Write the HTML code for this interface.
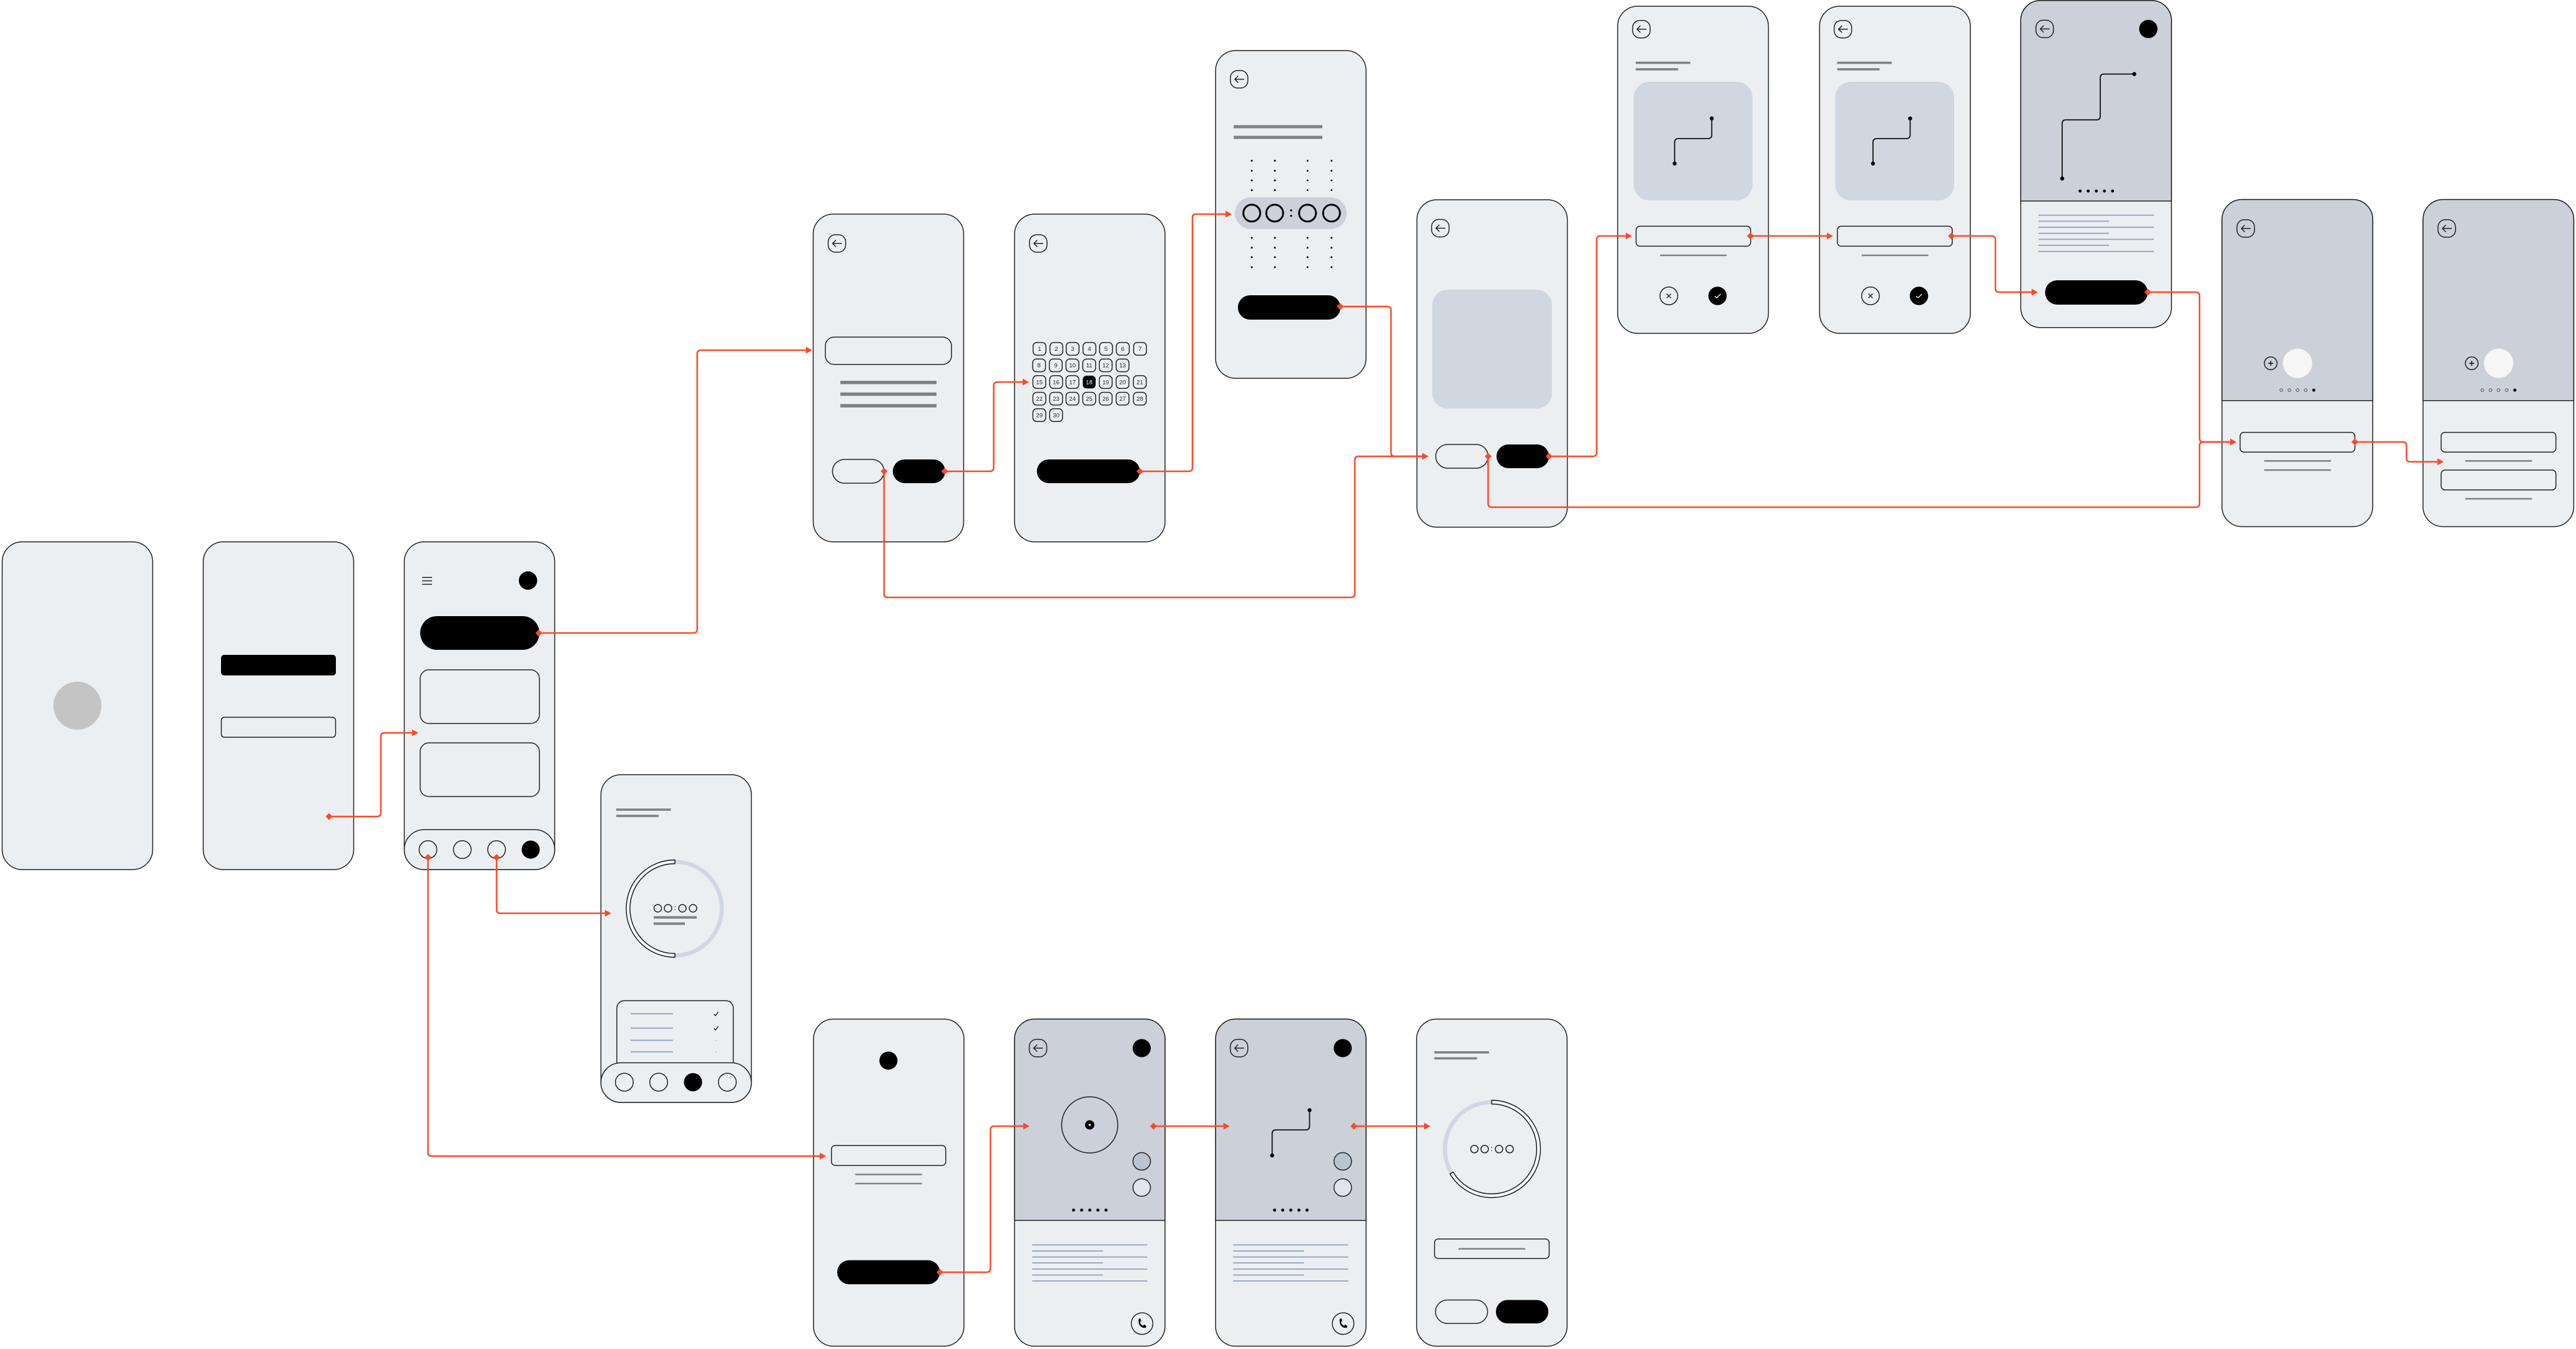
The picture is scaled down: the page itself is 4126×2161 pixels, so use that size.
<!DOCTYPE html>
<html lang="en">
<head>
<meta charset="utf-8">
<title>Wireframe flow</title>
<style>
html,body{margin:0;padding:0;background:#fff}
svg{display:block}
.ph{fill:#eceff2;stroke:#222;stroke-width:1.5}
.top{fill:#cbd0d9}
.o{fill:#eceff2;stroke:#222;stroke-width:1.5}
.n{fill:none;stroke:#222;stroke-width:1.5}
.g{fill:#808080}
.b{stroke:#9aa8c2;stroke-width:2;fill:none}
.gl{stroke:#808080;stroke-width:2.5;fill:none}
.c{fill:none;stroke:#fb4a26;stroke-width:2.5;marker-start:url(#dia);marker-end:url(#arr)}
.t{font:9.5px "Liberation Sans",sans-serif;text-anchor:middle;fill:#222}
.route{fill:none;stroke:#111;stroke-width:1.8}
</style>
</head>
<body>
<svg width="4126" height="2161" viewBox="0 0 4126 2161" xmlns="http://www.w3.org/2000/svg">
<defs>
<marker id="arr" markerUnits="userSpaceOnUse" markerWidth="11" markerHeight="13" refX="0" refY="6" orient="auto"><polygon points="0,0.5 10,6 0,11.5" fill="#fb4a26"/></marker>
<marker id="dia" markerUnits="userSpaceOnUse" markerWidth="13" markerHeight="13" refX="6.5" refY="6.5" orient="auto"><polygon points="6.5,1 12,6.5 6.5,12 1,6.5" fill="#fb4a26"/></marker>
<g id="back"><rect x="-14" y="-14" width="28" height="28" rx="11.5" fill="none" stroke="#222" stroke-width="1.5"/><path d="M8 0H-7M-1.5-5.5L-7 0-1.5 5.5" fill="none" stroke="#222" stroke-width="1.5"/></g>
<g id="cal"><rect x="-10.3" y="-10.2" width="20.6" height="20.4" rx="6" fill="none" stroke="#222" stroke-width="1.5"/></g>
<g id="dots5"><circle cx="-26" r="2.4"/><circle cx="-13" r="2.4"/><circle r="2.4"/><circle cx="13" r="2.4"/><circle cx="26" r="2.4"/></g>
<g id="pager"><circle cx="-26" r="2.3" fill="none" stroke="#333" stroke-width=".8"/><circle cx="-13" r="2.3" fill="none" stroke="#333" stroke-width=".8"/><circle r="2.3" fill="none" stroke="#333" stroke-width=".8"/><circle cx="13" r="2.3" fill="none" stroke="#333" stroke-width=".8"/><circle cx="26" r="2.5" fill="#000"/></g>
<g id="call"><circle r="17.3" fill="none" stroke="#222" stroke-width="1.5"/><path d="M-5.5-7.5L-2.5-8-1.5-4-3.5-2.8Q-2.5 1.5 1.5 3.5L3.5 1.5 7 4.5 5.5 7Q-7 7-5.5-7.5Z" fill="#000"/></g>
<g id="plus"><circle r="10.2" fill="none" stroke="#222" stroke-width="1.5"/><path d="M-4 0H4M0-4V4" stroke="#111" stroke-width="1.5"/></g>
<g id="time"><circle cx="-27.7" r="6" class="n"/><circle cx="-11.3" r="6" class="n"/><circle cx="11.7" r="6" class="n"/><circle cx="28.7" r="6" class="n"/><circle cy="-2.5" r=".8" fill="#333"/><circle cy="2.5" r=".8" fill="#333"/></g>
</defs>
<rect width="4126" height="2161" fill="#fff"/>

<!-- P1 -->
<rect class="ph" x="3.5" y="868" width="241" height="525" rx="32"/>
<circle cx="124" cy="1130.5" r="38.5" fill="#c4c4c4"/>

<!-- P2 -->
<rect class="ph" x="325.5" y="868" width="241" height="525" rx="32"/>
<rect x="354" y="1049" width="184" height="33" rx="5" fill="#000"/>
<rect class="o" x="354.5" y="1149" width="183" height="32" rx="5"/>

<!-- P3 -->
<rect class="ph" x="647.5" y="868" width="241" height="525" rx="32"/>
<path d="M676 925H692M676 930.5H692M676 936H692" stroke="#222" stroke-width="1.5"/>
<circle cx="845.7" cy="930" r="14.7" fill="#000"/>
<rect x="673" y="987" width="191" height="54" rx="27" fill="#000"/>
<rect class="o" x="673" y="1073" width="191" height="86" rx="14"/>
<rect class="o" x="673" y="1190" width="191" height="86" rx="14"/>
<rect class="o" x="647.5" y="1329" width="241" height="64" rx="32"/>
<circle class="n" cx="685.5" cy="1361" r="14.2"/>
<circle class="n" cx="740.5" cy="1361" r="14.2"/>
<circle class="n" cx="795.4" cy="1361" r="14.2"/>
<circle cx="850" cy="1361" r="14.5" fill="#000"/>

<!-- P4 -->
<rect class="ph" x="962.5" y="1241" width="241" height="525" rx="32"/>
<rect class="g" x="987" y="1295.2" width="87.5" height="3.6"/>
<rect class="g" x="987" y="1305.2" width="68" height="3.6"/>
<circle cx="1081" cy="1455.5" r="75" fill="none" stroke="#d0d7e2" stroke-width="6.5"/>
<path d="M1081 1377.5A78 78 0 0 0 1081 1533.5V1527.5A72 72 0 0 1 1081 1383.5Z" fill="#f4f6f8" stroke="#111" stroke-width="1.4" stroke-linejoin="round"/>
<use href="#time" x="1081.3" y="1455"/>
<rect class="g" x="1047" y="1467.6" width="69" height="4"/>
<rect class="g" x="1047" y="1477.6" width="50" height="4"/>
<path class="o" d="M988 1703V1615A12 12 0 0 1 1000 1603H1162.5A12 12 0 0 1 1174.5 1615V1703"/>
<path class="b" d="M1010 1624H1078M1010 1647H1078M1010 1666.5H1078M1010 1685H1078"/>
<path d="M1143.5 1624.5L1146 1627 1150.5 1621M1143.5 1647.5L1146 1650 1150.5 1644" fill="none" stroke="#111" stroke-width="1.3"/>
<circle cx="1147" cy="1666.5" r="1.1" fill="#c5c9d2"/><circle cx="1147" cy="1685" r="1.1" fill="#c5c9d2"/>
<rect class="o" x="962.5" y="1702.5" width="241" height="63.5" rx="32"/>
<circle class="n" cx="1000" cy="1733.6" r="14.3"/>
<circle class="n" cx="1055" cy="1733.6" r="14.3"/>
<circle cx="1110" cy="1733.6" r="14.6" fill="#000"/>
<circle class="n" cx="1165" cy="1733.6" r="14.3"/>

<!-- P5 -->
<rect class="ph" x="1302.5" y="343" width="241" height="525" rx="32"/>
<use href="#back" x="1340.5" y="390"/>
<rect class="o" x="1322" y="540" width="202" height="43.7" rx="14"/>
<rect class="g" x="1346" y="610" width="154" height="5.4"/>
<rect class="g" x="1346" y="628.7" width="154" height="5.4"/>
<rect class="g" x="1346" y="647.3" width="154" height="5.4"/>
<rect class="o" x="1333.4" y="736" width="82.6" height="38" rx="19"/>
<rect x="1430" y="736" width="84" height="38" rx="19" fill="#000"/>

<!-- P6 -->
<rect class="ph" x="1625" y="343" width="241" height="525" rx="32"/>
<use href="#back" x="1663" y="390"/>
<use href="#cal" x="1665" y="558.8"/><text class="t" x="1665" y="562.2">1</text>
<use href="#cal" x="1692" y="558.8"/><text class="t" x="1692" y="562.2">2</text>
<use href="#cal" x="1718" y="558.8"/><text class="t" x="1718" y="562.2">3</text>
<use href="#cal" x="1745" y="558.8"/><text class="t" x="1745" y="562.2">4</text>
<use href="#cal" x="1771.5" y="558.8"/><text class="t" x="1771.5" y="562.2">5</text>
<use href="#cal" x="1798.4" y="558.8"/><text class="t" x="1798.4" y="562.2">6</text>
<use href="#cal" x="1826" y="558.8"/><text class="t" x="1826" y="562.2">7</text>
<use href="#cal" x="1664.3" y="585.3"/><text class="t" x="1664.3" y="588.7">8</text>
<use href="#cal" x="1691" y="585.3"/><text class="t" x="1691" y="588.7">9</text>
<use href="#cal" x="1717.7" y="585.3"/><text class="t" x="1717.7" y="588.7">10</text>
<use href="#cal" x="1744.6" y="585.3"/><text class="t" x="1744.6" y="588.7">11</text>
<use href="#cal" x="1771" y="585.3"/><text class="t" x="1771" y="588.7">12</text>
<use href="#cal" x="1798" y="585.3"/><text class="t" x="1798" y="588.7">13</text>
<use href="#cal" x="1664.7" y="612"/><text class="t" x="1664.7" y="615.4">15</text>
<use href="#cal" x="1691.6" y="612"/><text class="t" x="1691.6" y="615.4">16</text>
<use href="#cal" x="1717.7" y="612"/><text class="t" x="1717.7" y="615.4">17</text>
<rect x="1734.3" y="601.8" width="20.6" height="20.4" rx="6" fill="#000"/><text class="t" x="1744.6" y="615.4" style="fill:#fff">18</text>
<use href="#cal" x="1771" y="612"/><text class="t" x="1771" y="615.4">19</text>
<use href="#cal" x="1798" y="612"/><text class="t" x="1798" y="615.4">20</text>
<use href="#cal" x="1825.7" y="612"/><text class="t" x="1825.7" y="615.4">21</text>
<use href="#cal" x="1664.7" y="638.7"/><text class="t" x="1664.7" y="642.1">22</text>
<use href="#cal" x="1691.6" y="638.7"/><text class="t" x="1691.6" y="642.1">23</text>
<use href="#cal" x="1717.7" y="638.7"/><text class="t" x="1717.7" y="642.1">24</text>
<use href="#cal" x="1744.6" y="638.7"/><text class="t" x="1744.6" y="642.1">25</text>
<use href="#cal" x="1771" y="638.7"/><text class="t" x="1771" y="642.1">26</text>
<use href="#cal" x="1798" y="638.7"/><text class="t" x="1798" y="642.1">27</text>
<use href="#cal" x="1825.7" y="638.7"/><text class="t" x="1825.7" y="642.1">28</text>
<use href="#cal" x="1664.7" y="665"/><text class="t" x="1664.7" y="668.4">29</text>
<use href="#cal" x="1691.6" y="665"/><text class="t" x="1691.6" y="668.4">30</text>
<rect x="1660.8" y="736" width="165" height="38" rx="19" fill="#000"/>

<!-- P7 -->
<rect class="ph" x="1947" y="81" width="241" height="525" rx="32"/>
<use href="#back" x="1984.7" y="127"/>
<rect class="g" x="1976" y="200.5" width="142" height="5"/>
<rect class="g" x="1976" y="217.5" width="142" height="5"/>
<g fill="#000">
<circle cx="2005" cy="257.5" r="1.5"/><circle cx="2005" cy="273.5" r="1.5"/><circle cx="2005" cy="289" r="1.5"/><circle cx="2005" cy="304.6" r="1.5"/>
<circle cx="2042" cy="257.5" r="1.5"/><circle cx="2042" cy="273.5" r="1.5"/><circle cx="2042" cy="289" r="1.5"/><circle cx="2042" cy="304.6" r="1.5"/>
<circle cx="2094.3" cy="257.5" r="1.5"/><circle cx="2094.3" cy="273.5" r="1.5"/><circle cx="2094.3" cy="289" r="1.5"/><circle cx="2094.3" cy="304.6" r="1.5"/>
<circle cx="2132.7" cy="257.5" r="1.5"/><circle cx="2132.7" cy="273.5" r="1.5"/><circle cx="2132.7" cy="289" r="1.5"/><circle cx="2132.7" cy="304.6" r="1.5"/>
<circle cx="2005" cy="381" r="1.5"/><circle cx="2005" cy="396.8" r="1.5"/><circle cx="2005" cy="412" r="1.5"/><circle cx="2005" cy="428" r="1.5"/>
<circle cx="2042" cy="381" r="1.5"/><circle cx="2042" cy="396.8" r="1.5"/><circle cx="2042" cy="412" r="1.5"/><circle cx="2042" cy="428" r="1.5"/>
<circle cx="2094.3" cy="381" r="1.5"/><circle cx="2094.3" cy="396.8" r="1.5"/><circle cx="2094.3" cy="412" r="1.5"/><circle cx="2094.3" cy="428" r="1.5"/>
<circle cx="2132.7" cy="381" r="1.5"/><circle cx="2132.7" cy="396.8" r="1.5"/><circle cx="2132.7" cy="412" r="1.5"/><circle cx="2132.7" cy="428" r="1.5"/>
</g>
<rect x="1978" y="316" width="179" height="51" rx="25.5" fill="#cbd0d9"/>
<g fill="none" stroke="#000" stroke-width="3"><circle cx="2005" cy="341.4" r="13.5"/><circle cx="2041.7" cy="341.4" r="13.5"/><circle cx="2094.3" cy="341.4" r="13.5"/><circle cx="2132.7" cy="341.4" r="13.5"/></g>
<circle cx="2068" cy="337" r="1.6" fill="#000"/><circle cx="2068" cy="345.7" r="1.6" fill="#000"/>
<rect x="1982.7" y="473" width="164.3" height="39" rx="19.5" fill="#000"/>

<!-- P8 -->
<rect class="ph" x="2269.5" y="320" width="241" height="524.5" rx="32"/>
<use href="#back" x="2307" y="365.5"/>
<rect x="2294" y="464" width="191.8" height="190.5" rx="25" fill="#d1d7e0"/>
<rect class="o" x="2299.6" y="712" width="83.9" height="38" rx="19"/>
<rect x="2397" y="712" width="84" height="38" rx="19" fill="#000"/>

<!-- P9 -->
<rect class="ph" x="2591" y="10" width="241.5" height="524" rx="32"/>
<use href="#back" x="2629" y="46.7"/>
<rect class="g" x="2620" y="98.8" width="87.4" height="3.6"/>
<rect class="g" x="2620" y="109.2" width="68" height="3.6"/>
<rect x="2616.8" y="131" width="190.2" height="190" rx="25" fill="#d1d7e0"/>
<path class="route" d="M2682.3 262V228Q2682.3 222 2688.3 222H2735.7Q2741.7 222 2741.7 216V189.7"/>
<circle cx="2682.3" cy="262" r="3.2" fill="#000"/><circle cx="2741.7" cy="189.7" r="3.2" fill="#000"/>
<rect class="o" x="2620.5" y="362.4" width="183.5" height="32" rx="6"/>
<path class="gl" d="M2659 409H2765.6"/>
<circle class="n" cx="2673" cy="474" r="14.2"/>
<path d="M2669.5 470.5L2676.5 477.5M2676.5 470.5L2669.5 477.5" stroke="#222" stroke-width="1.4"/>
<circle cx="2751" cy="474" r="14.7" fill="#000"/>
<path d="M2746.5 474.5L2749.7 477 2756 471" fill="none" stroke="#fff" stroke-width="1.3"/>

<!-- P10 -->
<rect class="ph" x="2914.4" y="10" width="241.5" height="524" rx="32"/>
<use href="#back" x="2951.8" y="46.7"/>
<rect class="g" x="2942.6" y="98.8" width="87.4" height="3.6"/>
<rect class="g" x="2942.6" y="109.2" width="68" height="3.6"/>
<rect x="2939.5" y="131" width="190.5" height="190" rx="25" fill="#d1d7e0"/>
<path class="route" d="M3000 262V228Q3000 222 3006 222H3053.5Q3059.5 222 3059.5 216V189.7"/>
<circle cx="3000" cy="262" r="3.2" fill="#000"/><circle cx="3059.5" cy="189.7" r="3.2" fill="#000"/>
<rect class="o" x="2943" y="362.4" width="184" height="32" rx="6"/>
<path class="gl" d="M2981.8 409H3088.6"/>
<circle class="n" cx="2996" cy="474" r="14.2"/>
<path d="M2992.5 470.5L2999.5 477.5M2999.5 470.5L2992.5 477.5" stroke="#222" stroke-width="1.4"/>
<circle cx="3073.6" cy="474" r="14.7" fill="#000"/>
<path d="M3069 474.5L3072.2 477 3078.5 471" fill="none" stroke="#fff" stroke-width="1.3"/>

<!-- P11 -->
<rect class="ph" x="3236.6" y="0.8" width="241.4" height="524" rx="32"/>
<path class="top" d="M3236.6 322V32.8A32 32 0 0 1 3268.6 0.8H3446A32 32 0 0 1 3478 32.8V322Z"/>
<path d="M3236.6 322V32.8A32 32 0 0 1 3268.6 0.8H3446A32 32 0 0 1 3478 32.8V322M3236.6 322H3478" class="n"/>
<use href="#back" x="3275" y="46.4"/>
<circle cx="3441" cy="46.4" r="14.7" fill="#000"/>
<path class="route" d="M3303 286V198Q3303 192 3309 192H3358Q3364 192 3364 186V124.6Q3364 118.6 3370 118.6H3418.5"/>
<circle cx="3303" cy="286" r="3.2" fill="#000"/><circle cx="3418.5" cy="118.6" r="3.2" fill="#000"/>
<use href="#dots5" x="3357.7" y="306"/>
<path class="b" d="M3265 344.7H3450M3265 354.4H3378M3265 364H3450M3265 373.7H3378M3265 383.4H3450M3265 393H3378M3265 402.7H3450"/>
<rect x="3275.6" y="449" width="164.4" height="39" rx="19.5" fill="#000"/>

<!-- P12 -->
<rect class="ph" x="3559" y="319.6" width="241.4" height="524" rx="32"/>
<path class="top" d="M3559 641.7V351.6A32 32 0 0 1 3591 319.6H3768.4A32 32 0 0 1 3800.4 351.6V641.7Z"/>
<path class="n" d="M3559 641.7V351.6A32 32 0 0 1 3591 319.6H3768.4A32 32 0 0 1 3800.4 351.6V641.7M3559 641.7H3800.4"/>
<use href="#back" x="3597" y="366"/>
<use href="#plus" x="3637" y="582"/>
<circle cx="3680" cy="582" r="23.5" fill="#f6f6f6"/>
<use href="#pager" x="3680" y="625"/>
<rect class="o" x="3588" y="692.6" width="183.8" height="31.6" rx="6"/>
<path class="gl" d="M3626.5 738.4H3733.4M3626.5 753H3733.4"/>

<!-- P13 -->
<rect class="ph" x="3881" y="319.6" width="241.4" height="524" rx="32"/>
<path class="top" d="M3881 641.7V351.6A32 32 0 0 1 3913 319.6H4090.4A32 32 0 0 1 4122.4 351.6V641.7Z"/>
<path class="n" d="M3881 641.7V351.6A32 32 0 0 1 3913 319.6H4090.4A32 32 0 0 1 4122.4 351.6V641.7M3881 641.7H4122.4"/>
<use href="#back" x="3919" y="366"/>
<use href="#plus" x="3959" y="582"/>
<circle cx="4002" cy="582" r="23.5" fill="#f6f6f6"/>
<use href="#pager" x="4002" y="625"/>
<rect class="o" x="3910" y="692.6" width="183.8" height="31.6" rx="6"/>
<path class="gl" d="M3948.5 738.4H4055.4"/>
<rect class="o" x="3910" y="753" width="183.8" height="31.8" rx="6"/>
<path class="gl" d="M3948.5 799H4055.4"/>

<!-- P14 -->
<rect class="ph" x="1303" y="1632.5" width="241" height="524" rx="32"/>
<circle cx="1423" cy="1699" r="14.5" fill="#000"/>
<rect class="o" x="1331.7" y="1835" width="183.1" height="32" rx="6"/>
<path class="gl" d="M1369.8 1881.4H1476.6M1369.8 1896H1476.6"/>
<rect x="1341" y="2018.8" width="164.4" height="38.5" rx="19.2" fill="#000"/>

<!-- P15 -->
<rect class="ph" x="1625" y="1632.5" width="241" height="524" rx="32"/>
<path class="top" d="M1625 1955V1664.5A32 32 0 0 1 1657 1632.5H1834A32 32 0 0 1 1866 1664.5V1955Z"/>
<path class="n" d="M1625 1955V1664.5A32 32 0 0 1 1657 1632.5H1834A32 32 0 0 1 1866 1664.5V1955M1625 1955H1866"/>
<use href="#back" x="1662.6" y="1679"/>
<circle cx="1828.7" cy="1679" r="14.5" fill="#000"/>
<circle class="n" cx="1745.4" cy="1802" r="45"/>
<circle cx="1745.4" cy="1802" r="7.5" fill="#000"/><circle cx="1745.4" cy="1802" r="1.7" fill="#fff"/>
<circle cx="1828.7" cy="1860.4" r="14" fill="#b9c4d0" stroke="#222" stroke-width="1.5"/>
<circle cx="1828.7" cy="1902.4" r="14" fill="#e0e4ec" stroke="#222" stroke-width="1.5"/>
<use href="#dots5" x="1745.5" y="1938.5"/>
<path class="b" d="M1653.3 1994.3H1837.5M1653.3 2004H1766.5M1653.3 2013.6H1837.5M1653.3 2023H1766.5M1653.3 2033H1837.5M1653.3 2042.5H1766.5M1653.3 2052H1837.5"/>
<use href="#call" x="1829.3" y="2120.3"/>

<!-- P16 -->
<rect class="ph" x="1947" y="1632.5" width="241" height="524" rx="32"/>
<path class="top" d="M1947 1955V1664.5A32 32 0 0 1 1979 1632.5H2156A32 32 0 0 1 2188 1664.5V1955Z"/>
<path class="n" d="M1947 1955V1664.5A32 32 0 0 1 1979 1632.5H2156A32 32 0 0 1 2188 1664.5V1955M1947 1955H2188"/>
<use href="#back" x="1984.6" y="1679"/>
<circle cx="2150.7" cy="1679" r="14.5" fill="#000"/>
<path class="route" d="M2037.6 1851V1816Q2037.6 1810 2043.6 1810H2091.5Q2097.5 1810 2097.5 1804V1778.4"/>
<circle cx="2037.6" cy="1851" r="3.2" fill="#000"/><circle cx="2097.5" cy="1778.4" r="3.2" fill="#000"/>
<circle cx="2150.7" cy="1860.4" r="14" fill="#b9c4d0" stroke="#222" stroke-width="1.5"/>
<circle cx="2150.7" cy="1902.4" r="14" fill="#e0e4ec" stroke="#222" stroke-width="1.5"/>
<use href="#dots5" x="2067.5" y="1938.5"/>
<path class="b" d="M1975.3 1994.3H2159.5M1975.3 2004H2088.5M1975.3 2013.6H2159.5M1975.3 2023H2088.5M1975.3 2033H2159.5M1975.3 2042.5H2088.5M1975.3 2052H2159.5"/>
<use href="#call" x="2151.3" y="2120.3"/>

<!-- P17 -->
<rect class="ph" x="2269" y="1632.5" width="241" height="524" rx="32"/>
<rect class="g" x="2297.3" y="1684" width="87.7" height="3.6"/>
<rect class="g" x="2297.3" y="1693.6" width="68.4" height="3.6"/>
<circle cx="2389.3" cy="1840.5" r="75" fill="none" stroke="#d0d7e2" stroke-width="6.5"/>
<path d="M2389.3 1762.5A78 78 0 1 1 2322.4 1880.5L2327.5 1877.5A72 72 0 1 0 2389.3 1768.5Z" fill="#f4f6f8" stroke="#111" stroke-width="1.4" stroke-linejoin="round"/>
<use href="#time" x="2389.3" y="1840.7"/>
<rect class="o" x="2297.7" y="1984.7" width="183.6" height="31.3" rx="6"/>
<path class="gl" d="M2336 2000.5H2443"/>
<rect class="o" x="2299.3" y="2082.5" width="83.4" height="37.5" rx="18.7"/>
<rect x="2396" y="2082.5" width="84" height="37.5" rx="18.7" fill="#000"/>

<!-- Connectors -->
<path class="c" d="M527 1308H604Q610 1308 610 1302V1180Q610 1174 616 1174H660"/>
<path class="c" d="M863 1014H1110.7Q1116.7 1014 1116.7 1008V567Q1116.7 561 1122.7 561H1291"/>
<path class="c" d="M685.5 1373.5V1846Q685.5 1852 691.5 1852H1313"/>
<path class="c" d="M795.4 1373.5V1457Q795.4 1463 801.4 1463H969"/>
<path class="c" d="M1513 755H1585.6Q1591.6 755 1591.6 749V618Q1591.6 612 1597.6 612H1638"/>
<path class="c" d="M1416 755V951Q1416 957 1422 957H2164Q2170 957 2170 951V737Q2170 731 2176 731H2278"/>
<path class="c" d="M1825.7 755H1904Q1910 755 1910 749V349Q1910 343 1916 343H1963"/>
<path class="c" d="M2146.7 491H2222Q2228 491 2228 497V725Q2228 731 2234 731H2278"/>
<path class="c" d="M2481 731H2551.4Q2557.4 731 2557.4 725V384Q2557.4 378 2563.4 378H2604"/>
<path class="c" d="M2383.5 731V806.5Q2383.5 812.5 2389.5 812.5H3517Q3523 812.5 3523 806.5V714Q3523 708 3529 708H3572"/>
<path class="c" d="M2803.6 378H2926"/>
<path class="c" d="M3125.7 378H3190Q3196 378 3196 384V462Q3196 468 3202 468H3254"/>
<path class="c" d="M3440 468H3517Q3523 468 3523 474V702Q3523 708 3529 708H3572"/>
<path class="c" d="M3771.8 708H3848.5Q3854.5 708 3854.5 714V733.7Q3854.5 739.7 3860.5 739.7H3904"/>
<path class="c" d="M1505.4 2038H1580.4Q1586.4 2038 1586.4 2032V1810Q1586.4 1804 1592.4 1804H1639"/>
<path class="c" d="M1847.5 1804H1959.6"/>
<path class="c" d="M2168.5 1804H2281"/>
</svg>
</body>
</html>
